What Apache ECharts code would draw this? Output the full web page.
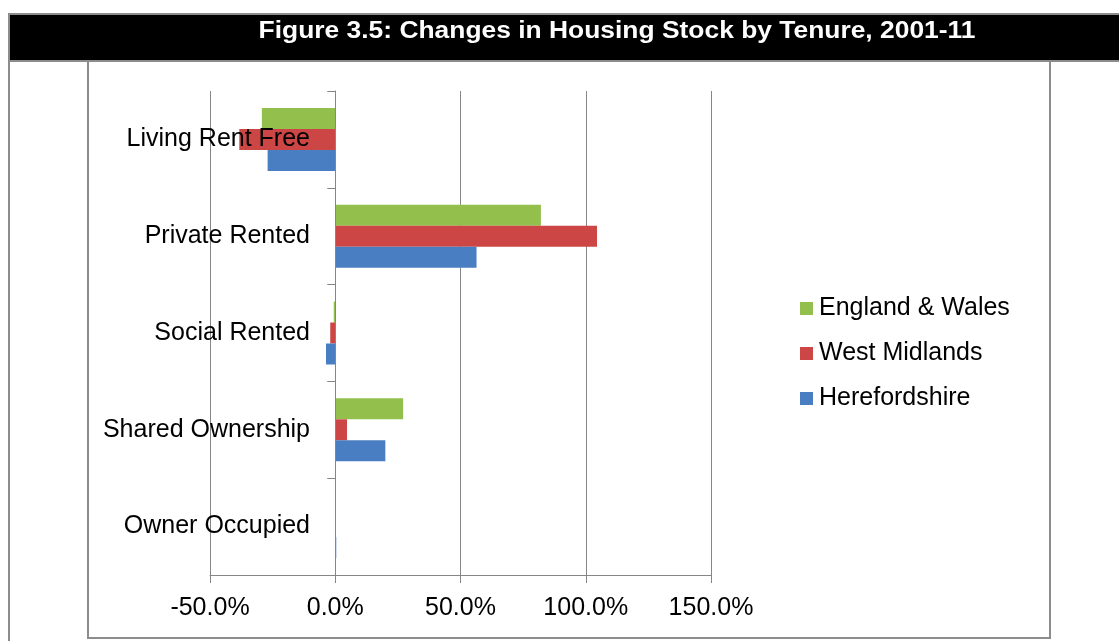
<!DOCTYPE html>
<html>
<head>
<meta charset="utf-8">
<title>Figure 3.5: Changes in Housing Stock by Tenure, 2001-11</title>
<script src="https://cdn.jsdelivr.net/npm/echarts@6/dist/echarts.min.js"></script>
<style>
  html, body { margin: 0; padding: 0; background: #fff; }
  #chart { width: 1119px; height: 641px; }
</style>
</head>
<body>
<div id="chart"></div>
<script>
// categories bottom -> top (category y axis starts at the bottom)
const tenures = ["Owner Occupied", "Shared Ownership", "Social Rented", "Private Rented", "Living Rent Free"];

// % change 2001-11, same order as tenures
const englandWales = [0.3, 27.1, -0.6, 82.1, -29.3];
const westMidlands = [0.3, 4.7, -2.0, 104.5, -38.3];
const herefordshire = [0.4, 20.0, -3.7, 56.4, -27.0];

const xTicks = [-50, 0, 50, 100, 150];
const legendOrder = ["England & Wales", "West Midlands", "Herefordshire"];

const FONT = '"Liberation Sans", Arial, sans-serif';

const chart = echarts.init(document.getElementById("chart"));

const option = {
  animation: false,
  textStyle: { fontFamily: FONT },
  grid: {
    left: 210,
    right: 408,
    top: 91,
    bottom: 66,
    containLabel: false,
    outerBoundsMode: "none",
  },
  legend: {
    orient: "vertical",
    left: 800,
    top: 296,
    padding: 0,
    data: legendOrder,
    itemWidth: 13,
    itemHeight: 13,
    itemGap: 20,
    icon: "rect",
    textStyle: { fontSize: 25, color: "#000", fontFamily: FONT, padding: [0, 0, 0, 1] },
  },
  xAxis: {
    type: "value",
    min: xTicks[0],
    max: xTicks[xTicks.length - 1],
    interval: 50,
    axisLine: { show: true, lineStyle: { color: "#868686", width: 1 } },
    axisTick: { show: true, length: 8, lineStyle: { color: "#868686" } },
    splitLine: { show: true, lineStyle: { color: "#868686", width: 1 } },
    axisLabel: {
      fontSize: 25,
      color: "#000",
      margin: 21,
      formatter: (v) => v.toFixed(1) + "%",
    },
  },
  yAxis: {
    type: "category",
    data: tenures,
    z: 5, // labels are drawn over the bars, like the original
    axisLine: { show: true, onZero: true, lineStyle: { color: "#868686", width: 1 } },
    axisTick: { show: true, length: 8, lineStyle: { color: "#868686" } },
    // labels sit next to the 0% line, not the plot edge (125px to the right)
    axisLabel: { fontSize: 25, color: "#000", margin: -100 },
    splitLine: { show: false },
  },
  series: [
    {
      name: "England & Wales",
      type: "bar",
      data: englandWales,
      barWidth: 21,
      barGap: "0%",
      itemStyle: { color: "#93BF4C" },
    },
    {
      name: "West Midlands",
      type: "bar",
      data: westMidlands,
      barWidth: 21,
      barGap: "0%",
      itemStyle: { color: "#CC4645" },
    },
    {
      name: "Herefordshire",
      type: "bar",
      data: herefordshire,
      barWidth: 21,
      barGap: "0%",
      itemStyle: { color: "#4A7EC2" },
    },
  ],
  graphic: [
    // black title strip
    {
      type: "rect",
      shape: { x: 9, y: 14, width: 1115, height: 47 },
      style: { fill: "#000", stroke: "#8c8c8c", lineWidth: 2 },
      z: 0,
    },
    {
      type: "text",
      x: 617,
      y: 31,
      scaleX: 1.1,
      style: {
        text: "Figure 3.5: Changes in Housing Stock by Tenure, 2001-11",
        fill: "#fff",
        font: "bold 24px " + FONT,
        align: "center",
        verticalAlign: "middle",
      },
      z: 1,
    },
    // outer page border, left side
    {
      type: "line",
      shape: { x1: 9, y1: 61, x2: 9, y2: 641 },
      style: { stroke: "#8c8c8c", lineWidth: 2 },
    },
    // chart frame
    {
      type: "rect",
      shape: { x: 88, y: 61, width: 962, height: 577 },
      style: { fill: "none", stroke: "#8c8c8c", lineWidth: 2 },
    },
  ],
};

chart.setOption(option);
</script>
</body>
</html>
